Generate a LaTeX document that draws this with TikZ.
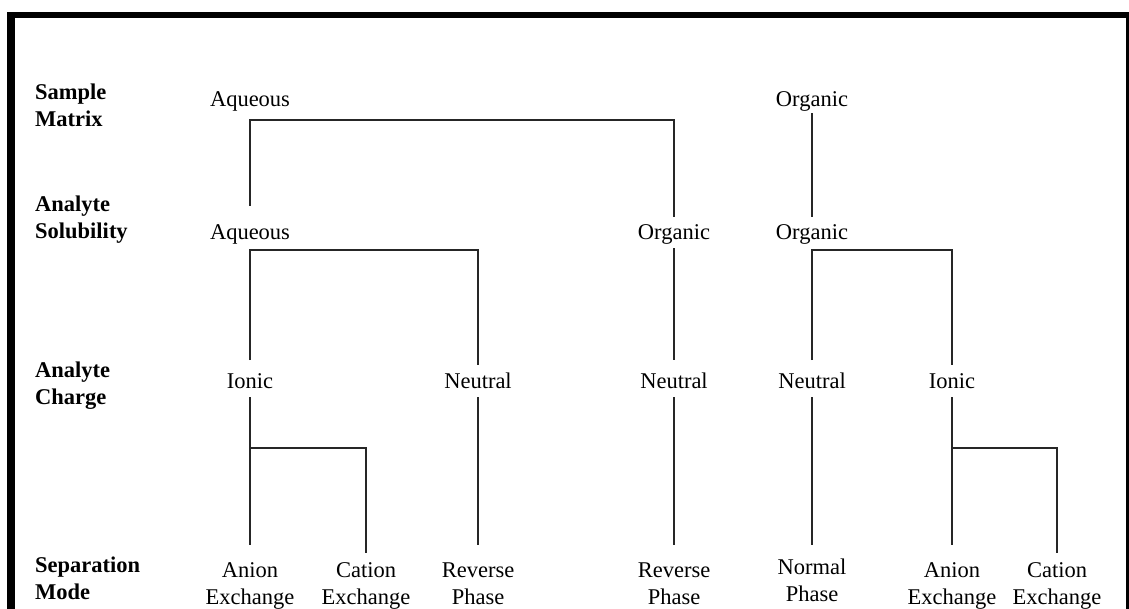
\documentclass[tikz,border=0pt]{standalone}
\usepackage{fontspec}
\setmainfont{Liberation Serif}
\newcommand\tst{\rule[-5pt]{0pt}{21pt}}
\begin{document}
\begin{tikzpicture}[x=1pt,y=-1pt,
  val/.style={anchor=north,inner sep=0pt,align=center,font=\fontsize{22.5}{27}\selectfont},
  lab/.style={anchor=north west,inner sep=0pt,align=left,font=\bfseries\fontsize{22.5}{27}\selectfont},
  conn/.style={line width=1.4pt,draw=black!85}]
\useasboundingbox (0,0) rectangle (1129,609);
% frame
\fill[black] (7,12) rectangle (1129,18);
\fill[black] (7,12) rectangle (15,609);
\fill[black] (1126,12) rectangle (1129,609);
% row labels
\node[lab] (l1) at (35,83) {\tst Sample\\\tst Matrix};
\node[lab] (l2) at (35,195) {\tst Analyte\\\tst Solubility};
\node[lab] (l3) at (35,361) {\tst Analyte\\\tst Charge};
\node[lab] (l4) at (35,556) {\tst Separation\\\tst Mode};
% row 1
\node[val] (aq1) at (250,90) {\tst Aqueous};
\node[val] (org1) at (812,90) {\tst Organic};
% row 2
\node[val] (aq2) at (250,223) {\tst Aqueous};
\node[val] (org2a) at (674,223) {\tst Organic};
\node[val] (org2b) at (812,223) {\tst Organic};
% row 3
\node[val] (ion3a) at (250,372) {\tst Ionic};
\node[val] (neu3a) at (478,372) {\tst Neutral};
\node[val] (neu3b) at (674,372) {\tst Neutral};
\node[val] (neu3c) at (812,372) {\tst Neutral};
\node[val] (ion3b) at (952,372) {\tst Ionic};
% row 4
\node[val] (an4a) at (250,561) {\tst Anion\\\tst Exchange};
\node[val] (cat4a) at (366,561) {\tst Cation\\\tst Exchange};
\node[val] (rev4a) at (478,561) {\tst Reverse\\\tst Phase};
\node[val] (rev4b) at (674,561) {\tst Reverse\\\tst Phase};
\node[val] (nor4) at (812,558) {\tst Normal\\\tst Phase};
\node[val] (an4b) at (952,561) {\tst Anion\\\tst Exchange};
\node[val] (cat4b) at (1057,561) {\tst Cation\\\tst Exchange};
% junction coordinates
\coordinate (b1) at (460,120);
\coordinate (b2) at (360,250);
\coordinate (b5) at (880,250);
\coordinate (b3) at (250,448);
\coordinate (b4) at (952,448);
% connectors
\draw[conn,shorten <=17pt,shorten >=6pt] (aq2.north) |- (b1) -| (org2a.north);
\draw[conn,shorten <=2pt,shorten >=6pt] (org1.south) -- (org2b.north);
\draw[conn,shorten <=12pt,shorten >=7pt] (ion3a.north) |- (b2) -| (neu3a.north);
\draw[conn,shorten <=4pt,shorten >=12pt] (org2a.south) -- (neu3b.north);
\draw[conn,shorten <=12pt,shorten >=7pt] (neu3c.north) |- (b5) -| (ion3b.north);
\draw[conn,shorten <=4pt,shorten >=16pt] (ion3a.south) -- (an4a.north);
\draw[conn,shorten >=8pt] (b3) -| (cat4a.north);
\draw[conn,shorten <=4pt,shorten >=16pt] (neu3a.south) -- (rev4a.north);
\draw[conn,shorten <=4pt,shorten >=16pt] (neu3b.south) -- (rev4b.north);
\draw[conn,shorten <=4pt,shorten >=13pt] (neu3c.south) -- (nor4.north);
\draw[conn,shorten <=4pt,shorten >=16pt] (ion3b.south) -- (an4b.north);
\draw[conn,shorten >=8pt] (b4) -| (cat4b.north);
\end{tikzpicture}
\end{document}
